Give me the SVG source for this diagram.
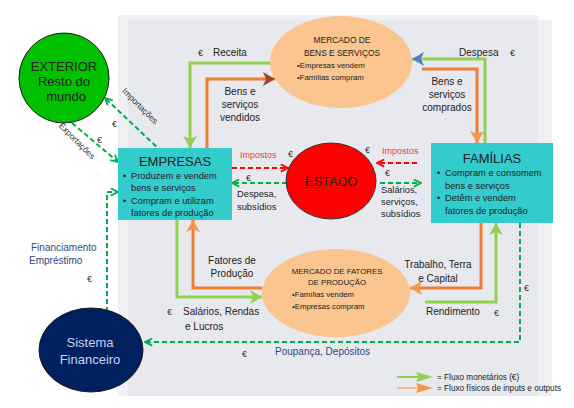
<svg xmlns="http://www.w3.org/2000/svg" width="574" height="408" viewBox="0 0 574 408">
<defs>
<style>
text{font-family:"Liberation Sans",Arial,sans-serif;fill:#222}
.sg{fill:none;stroke:#92d050;stroke-width:3}
.so{fill:none;stroke:#ed7d31;stroke-width:3}
.dg{fill:none;stroke:#00b050;stroke-width:2;stroke-dasharray:5 3}
.dr{fill:none;stroke:#ff0000;stroke-width:2;stroke-dasharray:5 3}
.eu{font-size:9px;fill:#333}
.lb{font-size:10px}
.bl{font-size:9.3px}
.mk{font-size:8.4px}
.mf{font-size:7.8px}
</style>
<marker id="ag" viewBox="0 0 12 14" refX="12" refY="7" markerWidth="12" markerHeight="14" orient="auto" markerUnits="userSpaceOnUse"><path d="M0,0 L12,7 L0,14 L3,7 z" fill="#92d050"/></marker>
<marker id="ao" viewBox="0 0 12 14" refX="12" refY="7" markerWidth="12" markerHeight="14" orient="auto" markerUnits="userSpaceOnUse"><path d="M0,0 L12,7 L0,14 L3,7 z" fill="#f79646"/></marker>
<marker id="ab" viewBox="0 0 12 14" refX="12" refY="7" markerWidth="12" markerHeight="14" orient="auto" markerUnits="userSpaceOnUse"><path d="M0,0 L12,7 L0,14 L3,7 z" fill="#a0462a"/></marker>
<marker id="au" viewBox="0 0 12 14" refX="12" refY="7" markerWidth="12" markerHeight="14" orient="auto" markerUnits="userSpaceOnUse"><path d="M0,0 L12,7 L0,14 L3,7 z" fill="#4f81bd"/></marker>
<marker id="cg" viewBox="0 0 10 10" refX="9" refY="5" markerWidth="9" markerHeight="9" orient="auto" markerUnits="userSpaceOnUse"><path d="M1,1 L9,5 L1,9" fill="none" stroke="#00b050" stroke-width="2"/></marker>
<marker id="cr" viewBox="0 0 10 10" refX="9" refY="5" markerWidth="9" markerHeight="9" orient="auto" markerUnits="userSpaceOnUse"><path d="M1,1 L9,5 L1,9" fill="none" stroke="#ff0000" stroke-width="2"/></marker>
</defs>
<rect width="574" height="408" fill="#ffffff"/>
<rect x="118" y="15" width="420" height="381" fill="#eef0f4"/>
<rect x="128" y="20" width="410" height="376" fill="#e8e9ef"/>
<rect x="538" y="20" width="14" height="376" fill="#eef0f4"/>

<g id="connectors">
<path class="sg" d="M271,63 H190 V148" marker-end="url(#ag)"/>
<path class="so" d="M207,148 V79 H275" marker-end="url(#ab)"/>
<path class="sg" d="M485,143 V59 H412" marker-end="url(#au)"/>
<path class="so" d="M422,69 H477 V143" marker-end="url(#ao)"/>
<path class="sg" d="M425,302 H496 V223" marker-end="url(#ag)"/>
<path class="so" d="M481,223 V288 H410" marker-end="url(#ao)"/>
<path class="so" d="M262,288 H193 V220" marker-end="url(#ao)"/>
<path class="sg" d="M177,220 V297 H262" marker-end="url(#ag)"/>
<path class="dr" d="M232,168 H288" marker-end="url(#cr)"/>
<path class="dg" d="M287,183 H232" marker-end="url(#cg)"/>
<path class="dr" d="M417,163 H377" marker-end="url(#cr)"/>
<path class="dg" d="M380,183 H421" marker-end="url(#cg)"/>
<path class="dg" d="M162,152 L105,98" marker-end="url(#cg)"/>
<path class="dg" d="M72,123 L118,162" marker-end="url(#cg)"/>
<path class="dg" d="M107,312 V192 H118" marker-end="url(#cg)"/>
<path class="dg" d="M520,223 V342 H145" marker-end="url(#cg)"/>
</g>

<g id="exterior">
<circle cx="64" cy="78" r="45" fill="#00c000" stroke="#1a1a1a" stroke-width="1"/>
<text x="64" y="71" text-anchor="middle" font-size="13">EXTERIOR</text>
<text x="64" y="86" text-anchor="middle" font-size="13">Resto do</text>
<text x="66" y="101" text-anchor="middle" font-size="13">mundo</text>
</g>

<g id="mercado-bens">
<ellipse cx="341" cy="62" rx="71" ry="46" fill="#fac58e"/>
<text x="342" y="43" text-anchor="middle" class="mk">MERCADO  DE</text>
<text x="342" y="56" text-anchor="middle" class="mk">BENS E SERVIÇOS</text>
<text x="297" y="68" class="mf">•Empresas vendem</text>
<text x="297" y="80" class="mf">•Famílias compram</text>
</g>

<g id="empresas">
<rect x="118" y="148" width="114" height="72" fill="#33cccc"/>
<text x="175" y="166" text-anchor="middle" font-size="13">EMPRESAS</text>
<text x="123" y="179" class="bl">•</text><text x="131" y="179" class="bl">Produzem  e vendem</text>
<text x="131" y="191" class="bl">bens  e serviços</text>
<text x="123" y="204" class="bl">•</text><text x="131" y="204" class="bl">Compram  e utilizam</text>
<text x="131" y="216" class="bl">fatores de produção</text>
</g>

<g id="estado">
<ellipse cx="331" cy="181" rx="45" ry="38" fill="#ff0000" stroke="#333" stroke-width="1"/>
<text x="331" y="186" text-anchor="middle" font-size="13">ESTADO</text>
</g>

<g id="familias">
<rect x="431" y="143" width="122" height="80" fill="#33cccc"/>
<text x="492" y="163" text-anchor="middle" font-size="13">FAMÍLIAS</text>
<text x="437" y="176" class="bl">•</text><text x="445" y="176" class="bl">Compram  e consomem</text>
<text x="445" y="189" class="bl">bens  e serviços</text>
<text x="437" y="201" class="bl">•</text><text x="445" y="201" class="bl">Detêm  e vendem</text>
<text x="445" y="214" class="bl">fatores de produção</text>
</g>

<g id="mercado-fatores">
<ellipse cx="336" cy="293" rx="74" ry="44" fill="#fac58e"/>
<text x="337" y="274" text-anchor="middle" class="mf">MERCADO  DE FATORES</text>
<text x="337" y="285" text-anchor="middle" class="mf">DE PRODUÇÃO</text>
<text x="292" y="297" class="mf">•Famílias vendem</text>
<text x="292" y="309" class="mf">•Empresas  compram</text>
</g>

<g id="sistema-financeiro">
<ellipse cx="91" cy="350" rx="52" ry="42" fill="#002060" stroke="#1a1a1a" stroke-width="1"/>
<text x="90" y="347" text-anchor="middle" font-size="13" style="fill:#c9d3ea">Sistema</text>
<text x="90" y="364" text-anchor="middle" font-size="13" style="fill:#c9d3ea">Financeiro</text>
</g>

<g id="labels">
<text x="198" y="56" class="eu">€</text>
<text x="213" y="56" class="lb">Receita</text>
<text x="240" y="95" text-anchor="middle" class="lb">Bens e</text>
<text x="240" y="108" text-anchor="middle" class="lb">serviços</text>
<text x="240" y="121" text-anchor="middle" class="lb">vendidos</text>
<text x="459" y="56" class="lb">Despesa</text>
<text x="510" y="56" class="eu">€</text>
<text x="447" y="85" text-anchor="middle" class="lb">Bens e</text>
<text x="447" y="98" text-anchor="middle" class="lb">serviços</text>
<text x="447" y="111" text-anchor="middle" class="lb">comprados</text>
<text x="0" y="0" font-size="8.5" transform="translate(138,108) rotate(45)" text-anchor="middle" style="fill:#333">Importações</text>
<text x="112" y="127" class="eu">€</text>
<text x="0" y="0" font-size="8.5" transform="translate(75,143) rotate(45)" text-anchor="middle" style="fill:#333">Exportações</text>
<text x="97" y="143" class="eu">€</text>
<text x="240" y="158" font-size="9" style="fill:#ff3333">Impostos</text>
<text x="288" y="157" class="eu">€</text>
<text x="246" y="181" class="eu">€</text>
<text x="237" y="197" class="bl">Despesa,</text>
<text x="237" y="210" class="bl">subsídios</text>
<text x="365" y="153" class="eu">€</text>
<text x="382" y="154" font-size="9" style="fill:#ff3333">Impostos</text>
<text x="385" y="176" class="eu">€</text>
<text x="381" y="193" class="bl">Salários,</text>
<text x="381" y="205" class="bl">serviços,</text>
<text x="381" y="217" class="bl">subsídios</text>
<text x="31" y="251" class="lb" style="fill:#2e4a7d">Financiamento</text>
<text x="29" y="264" class="lb" style="fill:#2e4a7d">Empréstimo</text>
<text x="87" y="282" class="eu">€</text>
<text x="232" y="264" text-anchor="middle" class="lb">Fatores de</text>
<text x="232" y="277" text-anchor="middle" class="lb">Produção</text>
<text x="167" y="315" class="eu">€</text>
<text x="183" y="315" class="lb">Salários,  Rendas</text>
<text x="185" y="330" class="lb">e Lucros</text>
<text x="438" y="268" text-anchor="middle" class="lb">Trabalho, Terra</text>
<text x="438" y="282" text-anchor="middle" class="lb">e Capital</text>
<text x="426" y="315" class="lb">Rendimento</text>
<text x="494" y="316" class="eu">€</text>
<text x="524" y="291" class="eu">€</text>
<text x="242" y="357" class="eu">€</text>
<text x="275" y="355" class="lb" style="fill:#2e4a7d">Poupança,  Depósitos</text>
</g>

<g id="legend">
<polygon points="397,376 418,376 416,372 433,377 416,382 418,378 397,378" fill="#92d050"/>
<polygon points="397,387.5 418,387.5 416,383 433,388 416,393 418,388.5 397,388.5" fill="#f79646"/>
<text x="437" y="380" font-size="8.2">= Fluxo monetários (€)</text>
<text x="437" y="391" font-size="8.2">= Fluxo físicos de inputs e outputs</text>
</g>
</svg>
